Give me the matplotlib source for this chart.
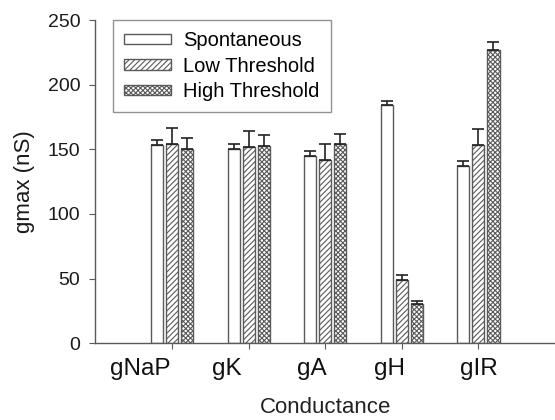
import matplotlib
matplotlib.use("Agg")
import matplotlib.pyplot as plt
import numpy as np

plt.rcParams['font.family'] = ['Liberation Sans', 'DejaVu Sans']
plt.rcParams['hatch.linewidth'] = 0.8

categories = ['gNaP', 'gK', 'gA', 'gH', 'gIR']
series = ['Spontaneous', 'Low Threshold', 'High Threshold']
spont = [153, 150.5, 145, 184.5, 137]
spont_err = [4, 4, 3.5, 3, 4]
low = [154.5, 152, 142, 49, 153.5]
low_err = [12, 12, 12, 4, 12]
high = [150, 152.5, 154, 30, 227]
high_err = [9, 8.5, 8, 2.5, 6]
yticks = [0, 50, 100, 150, 200, 250]

# horizontal shift of each category label relative to its tick (axis units)
label_shift = [-0.42, -0.28, -0.18, -0.16, 0.0]

fig = plt.figure(figsize=(5.55, 4.2), dpi=100)
ax = fig.add_axes([0.172, 0.183, 0.828, 0.769])

x = np.arange(1, len(categories) + 1)
w = 0.158
step = 0.197
edge = '#5a5a5a'
data = [(spont, spont_err, None), (low, low_err, '//////'), (high, high_err, 'xxxxxxx')]
for i, (vals, errs, hatch) in enumerate(data):
    pos = x + (i - 1) * step
    ax.bar(pos, vals, width=w, color='white', edgecolor=edge, linewidth=1.0,
           hatch=hatch, label=series[i], zorder=2)
    ax.errorbar(pos, vals, yerr=[np.zeros(len(errs)), errs], fmt='none',
                ecolor='#222222', elinewidth=1.2, capsize=4, capthick=1.2, zorder=3)

ax.set_xlim(0, 6)
ax.set_ylim(0, 250)
ax.set_yticks(yticks)
ax.set_yticklabels([str(v) for v in yticks], fontsize=14, color='#1a1a1a')
ax.xaxis.remove_overlapping_locs = False
ax.set_xticks(x)
ax.set_xticklabels([])
ax.set_xticks(x + np.array(label_shift), minor=True)
ax.set_xticklabels(categories, minor=True, fontsize=17.5, color='#111111')
ax.tick_params(axis='x', which='minor', length=0, pad=11)
ax.tick_params(axis='x', which='major', length=4, direction='out', color=edge)
ax.tick_params(axis='y', length=4, direction='out', color=edge, pad=7)

for s in ['top', 'right']:
    ax.spines[s].set_visible(False)
for s in ['left', 'bottom']:
    ax.spines[s].set_color(edge)
    ax.spines[s].set_linewidth(1.0)

ax.set_ylabel('gmax (nS)', fontsize=16, color='#1a1a1a', labelpad=9)
ax.set_xlabel('Conductance', fontsize=16, color='#222222', labelpad=12)

leg = ax.legend(loc='upper left', bbox_to_anchor=(0.038, 1.0), borderaxespad=0,
                fontsize=14.5, handlelength=2.35, handleheight=0.45, frameon=True,
                fancybox=False, edgecolor='#777777', borderpad=0.55,
                labelspacing=0.32, handletextpad=0.6)
leg.get_frame().set_linewidth(1.0)

fig.savefig('out.png', dpi=100)
